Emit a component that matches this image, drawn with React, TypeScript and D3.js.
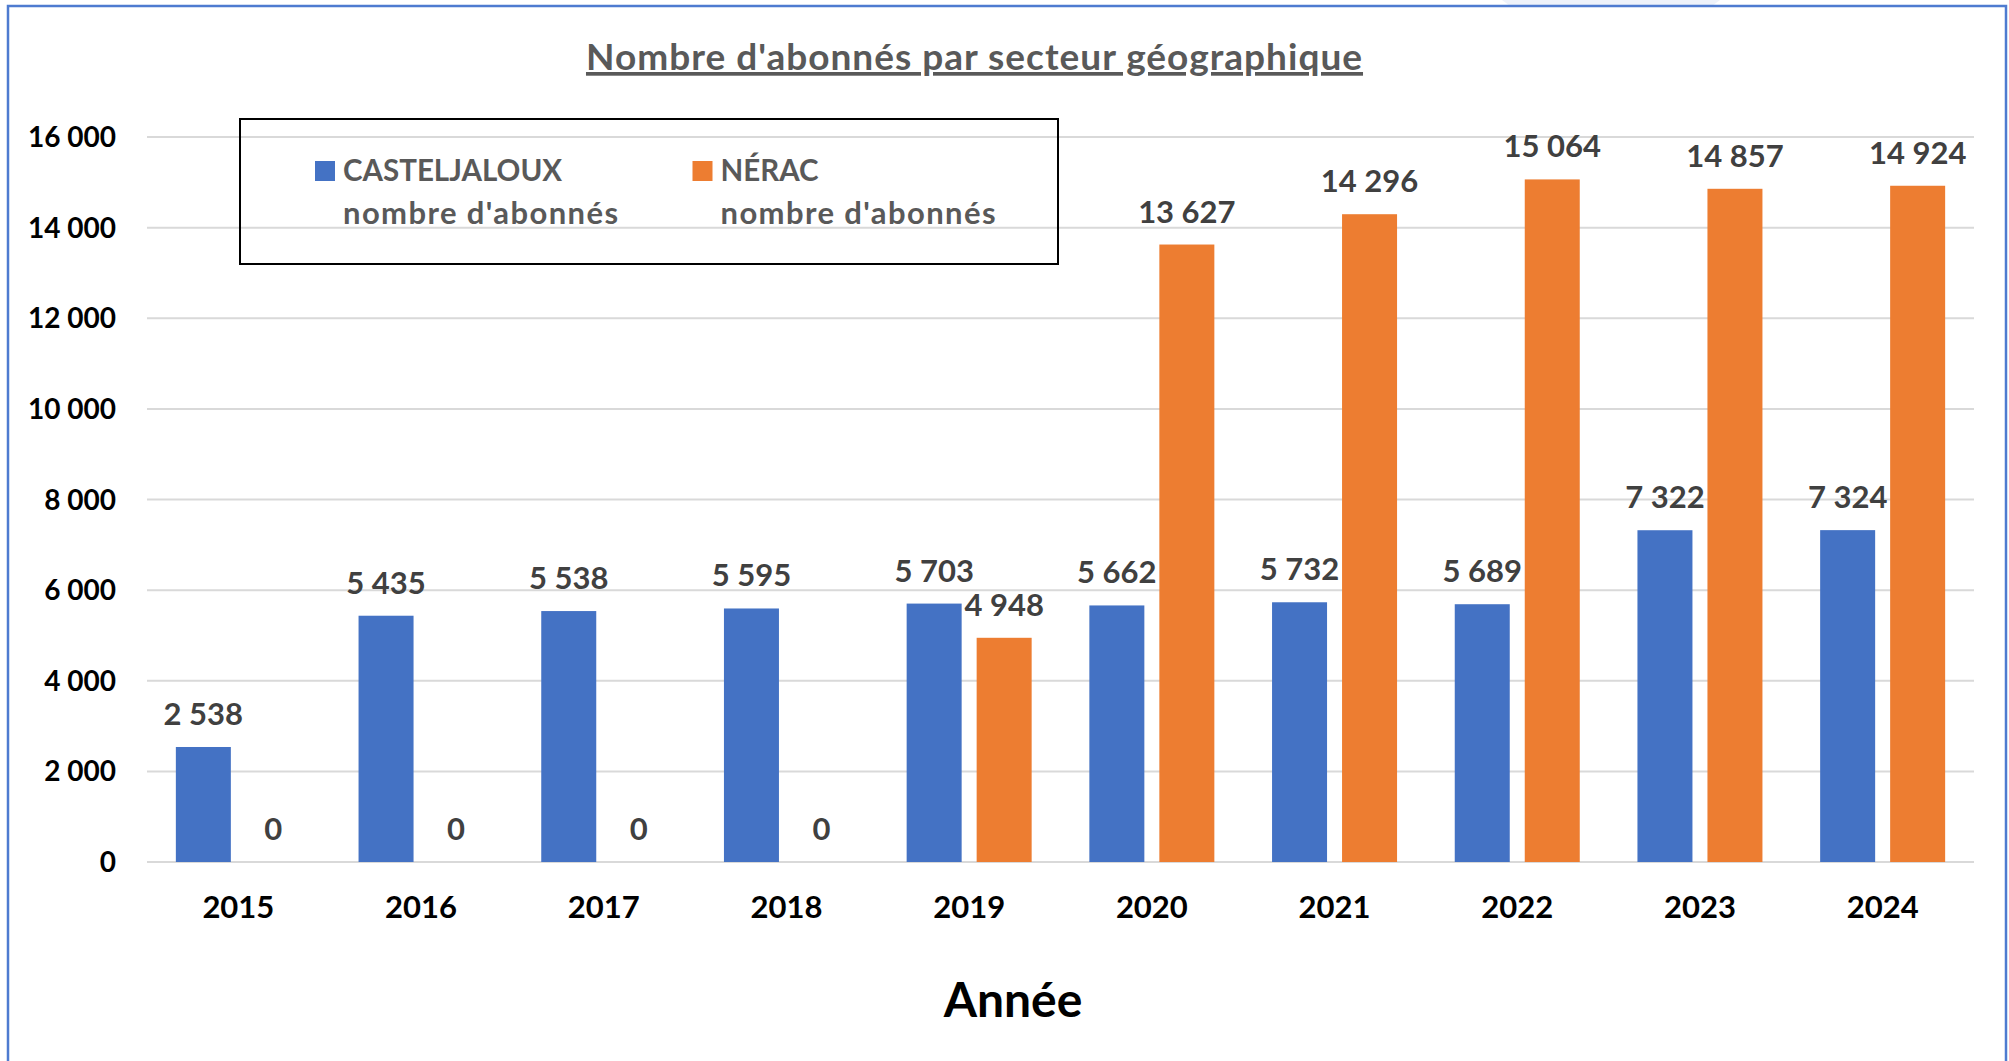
import React from "react";
import * as d3 from "d3";

const years = ["2015", "2016", "2017", "2018", "2019", "2020", "2021", "2022", "2023", "2024"];
const casteljaloux = [2538, 5435, 5538, 5595, 5703, 5662, 5732, 5689, 7322, 7324];
const nerac = [0, 0, 0, 0, 4948, 13627, 14296, 15064, 14857, 14924];
const seriesNames = ["CASTELJALOUX", "NÉRAC"];
const seriesColors = ["#4472C4", "#ED7D31"];
const yTicks = [0, 2000, 4000, 6000, 8000, 10000, 12000, 14000, 16000];
const title = "Nombre d'abonnés par secteur géographique";
const xTitle = "Année";
const legendSub = "nombre d'abonnés";

const W = 2009;
const H = 1061;
const FONT = "Lato, 'Open Sans', sans-serif";

const locale = d3.formatLocale({ decimal: ",", thousands: " ", grouping: [3], currency: ["", "€"] });
const fmt = locale.format(",d");

export default function App() {
  const plotL = 147, plotR = 1974, plotB = 862, plotT = 137;
  const x0 = d3.scaleBand<string>().domain(years).range([plotL, plotR]).paddingInner(0).paddingOuter(0);
  const groupW = 125;
  const x1 = d3.scaleBand<string>().domain(seriesNames).range([0, groupW]).paddingInner(15 / 70).paddingOuter(0);
  const y = d3.scaleLinear().domain([0, 16000]).range([plotB, plotT]);
  const series = [casteljaloux, nerac];

  return (
    <svg width={W} height={H} style={{ position: "absolute", left: 0, top: 0, background: "#fff" }} fontFamily={FONT}>
      <rect x={0} y={0} width={W} height={H} fill="#fff" />
      <path d="M1502,0 L1720,0 L1712,6 L1510,6 Z" fill="#eef2fa" />
      <rect x={8} y={6} width={1998} height={H + 20} fill="none" stroke="#4e7bd0" strokeWidth={2.5} />

      {/* title */}
      <text x={974.5} y={70} textAnchor="middle" fontSize={37} letterSpacing={1} fontWeight="bold" fill="#595959" textDecoration="underline">
        {title}
      </text>

      {/* gridlines */}
      {yTicks.map((t) => (
        <line key={"g" + t} x1={plotL} x2={plotR} y1={y(t)} y2={y(t)} stroke="#d9d9d9" strokeWidth={2} />
      ))}
      {/* y tick labels */}
      {yTicks.map((t) => (
        <text key={"t" + t} x={116} y={y(t) + 10} textAnchor="end" fontSize={28} fontWeight="bold" fill="#000">
          {fmt(t)}
        </text>
      ))}

      {/* legend box */}
      <rect x={240} y={119} width={818} height={145} fill="#fff" stroke="#000" strokeWidth={2} />
      {[14000, 16000].map((t) => (
        <line key={"lg" + t} x1={241} x2={1057} y1={y(t)} y2={y(t)} stroke="#d9d9d9" strokeWidth={2} />
      ))}
      {seriesNames.map((s, i) => {
        const lx = i === 0 ? 315 : 692.5;
        return (
          <g key={"leg" + s}>
            <rect x={lx} y={161} width={20} height={20} fill={seriesColors[i]} />
            <text x={lx + 28} y={181} fontSize={29.5} fontWeight="bold" fill="#595959">{s}</text>
            <text x={lx + 28} y={224} fontSize={31} letterSpacing={1.4} fontWeight="bold" fill="#595959">{legendSub}</text>
          </g>
        );
      })}

      {/* bars */}
      {series.map((vals, si) =>
        years.map((yr, i) => {
          const bx = (x0(yr) as number) + (x0.bandwidth() - groupW) / 2 + (x1(seriesNames[si]) as number);
          const v = vals[i];
          return (
            <g key={"b" + si + yr}>
              {v > 0 && (
                <rect x={bx} y={y(v)} width={x1.bandwidth()} height={plotB - y(v)} fill={seriesColors[si]} />
              )}
              <text x={bx + x1.bandwidth() / 2} y={y(v) - 22} textAnchor="middle" fontSize={31} fontWeight="bold" fill="#404040">
                {fmt(v)}
              </text>
            </g>
          );
        })
      )}

      {/* x labels */}
      {years.map((yr) => (
        <text key={"x" + yr} x={(x0(yr) as number) + x0.bandwidth() / 2} y={918} textAnchor="middle" fontSize={31} fontWeight="bold" fill="#000">
          {yr}
        </text>
      ))}

      <text x={1013} y={1017} textAnchor="middle" fontSize={48} fontWeight="bold" fill="#000">
        {xTitle}
      </text>
    </svg>
  );
}
